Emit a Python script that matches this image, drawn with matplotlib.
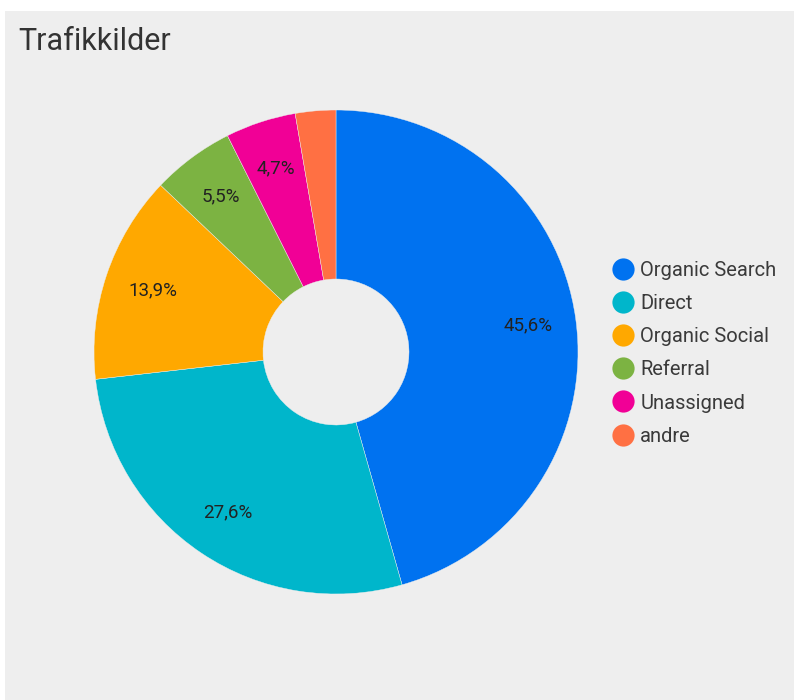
import matplotlib.pyplot as plt
from matplotlib.lines import Line2D
from matplotlib.patches import Rectangle

TITLE = "Trafikkilder"
SOURCES = ["Organic Search", "Direct", "Organic Social", "Referral", "Unassigned", "andre"]
SHARES = [45.6, 27.6, 13.9, 5.5, 4.7, 2.7]
COLORS = ["#0072f0", "#00b6cb", "#ffa800", "#7cb342", "#f10096", "#ff7043"]

W, H = 795, 700
plt.rcParams["font.family"] = ["Roboto", "DejaVu Sans"]

fig = plt.figure(figsize=(W / 100, H / 100), dpi=100, facecolor="white")
fig.patches.append(Rectangle((5 / W, 0), 789 / W, 689 / H, transform=fig.transFigure,
                             facecolor="#eeeeee", edgecolor="none", zorder=-10))

fig.text(18 / W, 1 - 42 / H, TITLE, fontsize=22, color="#333333", va="center", ha="left")

# donut: centre (336, 352) px, outer radius 242 px, hole radius 73 px
cx, cy, r = 336, 352, 242
ax = fig.add_axes([(cx - r) / W, (H - cy - r) / H, 2 * r / W, 2 * r / H])


def fmt(p):
    return f"{p:.1f}%".replace(".", ",") if p >= 3 else ""


wedges, _, autotexts = ax.pie(
    SHARES, colors=COLORS, startangle=90, counterclock=False, radius=1,
    autopct=fmt, pctdistance=0.8,
    wedgeprops=dict(width=1 - 73 / 242, edgecolor="#eeeeee", linewidth=0.3),
    textprops=dict(fontsize=13.5, color="#222222"),
)
ax.set_xlim(-1, 1)
ax.set_ylim(-1, 1)
ax.set_aspect("equal")
ax.axis("off")

handles = [Line2D([], [], marker="o", linestyle="none", markersize=16,
                  markerfacecolor=c, markeredgecolor="none") for c in COLORS]
fig.legend(handles, SOURCES, loc="upper left", bbox_to_anchor=(593 / W, 1 - 243 / H),
           frameon=False, fontsize=14.5, labelspacing=0.7, handletextpad=0.25,
           handlelength=1.2, labelcolor="#3a3a3a")

fig.savefig("out.png", dpi=100, facecolor=fig.get_facecolor())
